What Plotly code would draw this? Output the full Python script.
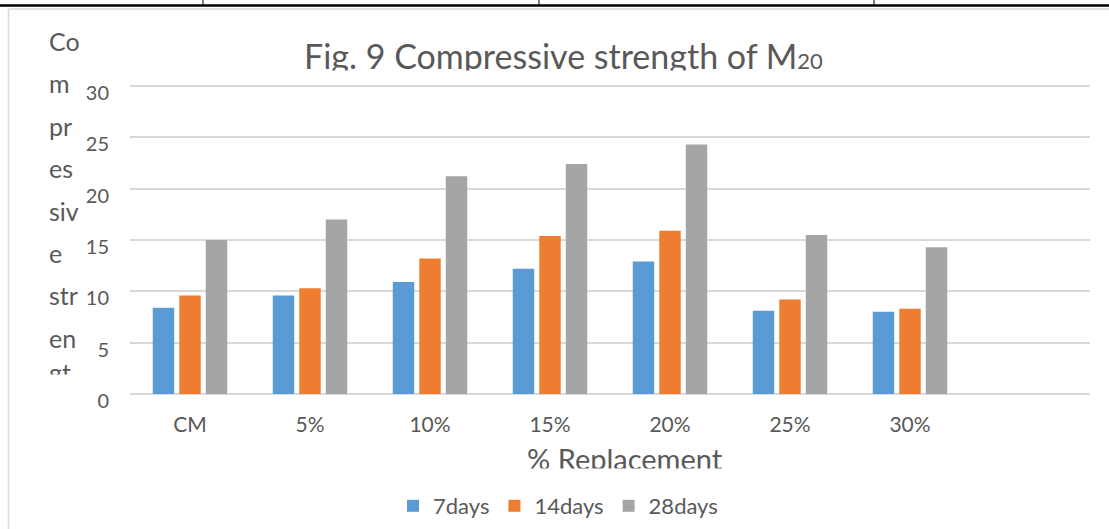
import plotly.graph_objects as go

# ---- data ----
categories = ["CM", "5%", "10%", "15%", "20%", "25%", "30%"]
days7 = [8.4, 9.6, 10.9, 12.2, 12.9, 8.1, 8.0]
days14 = [9.6, 10.3, 13.2, 15.4, 15.9, 9.2, 8.3]
days28 = [15.0, 17.0, 21.2, 22.4, 24.3, 15.5, 14.3]
series_names = ["7days", "14days", "28days"]
series_colors = ["#5B9BD5", "#ED7D31", "#A5A5A5"]
yticks = [0, 5, 10, 15, 20, 25, 30]
ytitle_parts = ["Co", "m", "pr", "es", "siv", "e", "str", "en", "gt"]
title_text = "Fig. 9 Compressive strength of M<span style='font-size:22px'>20</span>"
xtitle_text = "% Replacement"

# ---- geometry ----
W, H = 1109, 529
ML, MR, MT, MB = 130, 19, 85, 135
PW = W - ML - MR
PH = H - MT - MB
FONT = "Lato"
TXT = "#595959"


def px(x):
    return (x - ML) / PW


def py(y):
    return (H - MB - y) / PH


fig = go.Figure()
for name, vals, col in zip(series_names, [days7, days14, days28], series_colors):
    fig.add_trace(go.Bar(x=categories, y=vals, name=name, marker=dict(color=col, line=dict(width=0))))

annotations = []
# title
annotations.append(dict(text=title_text, x=px(563), y=py(56), xref="paper", yref="paper",
                        xanchor="center", yanchor="middle", showarrow=False,
                        font=dict(family=FONT, size=34, color=TXT)))
# cover bottom of title (clipped in original)
annotations.append(dict(text=" ", x=px(290), y=py(70), xref="paper", yref="paper",
                        xanchor="left", yanchor="top", showarrow=False, width=560, height=13,
                        bgcolor="white", borderpad=0))
# y title fragments (wrapped, as in original)
for i, part in enumerate(ytitle_parts):
    cy = 41 + 42.4 * i if i < 8 else 372
    annotations.append(dict(text=part, x=px(47), y=py(cy), xref="paper", yref="paper",
                            xanchor="left", yanchor="middle", showarrow=False,
                            font=dict(family=FONT, size=25, color=TXT)))
annotations.append(dict(text=" ", x=px(40), y=py(374), xref="paper", yref="paper",
                        xanchor="left", yanchor="top", showarrow=False, width=50, height=15,
                        bgcolor="white", borderpad=0))
# x title
annotations.append(dict(text=xtitle_text, x=px(625), y=py(458), xref="paper", yref="paper",
                        xanchor="center", yanchor="middle", showarrow=False,
                        font=dict(family=FONT, size=29, color=TXT)))
annotations.append(dict(text=" ", x=px(500), y=py(468), xref="paper", yref="paper",
                        xanchor="left", yanchor="top", showarrow=False, width=260, height=16,
                        bgcolor="white", borderpad=0))

shapes = [
    dict(type="line", xref="paper", yref="paper", x0=px(0), x1=px(W), y0=py(5.5), y1=py(5.5),
         line=dict(color="black", width=2.5)),
    dict(type="line", xref="paper", yref="paper", x0=px(8.5), x1=px(8.5), y0=py(9), y1=py(H),
         line=dict(color="#d9d9d9", width=1.5)),
    dict(type="line", xref="paper", yref="paper", x0=px(8.5), x1=px(W), y0=py(9), y1=py(9),
         line=dict(color="#d9d9d9", width=1.5)),
]
for vx in [203, 539, 874]:
    shapes.append(dict(type="line", xref="paper", yref="paper", x0=px(vx), x1=px(vx), y0=py(0), y1=py(5),
                       line=dict(color="black", width=1)))

fig.update_layout(
    width=W, height=H,
    margin=dict(l=ML, r=MR, t=MT, b=MB, pad=0, autoexpand=False),
    paper_bgcolor="white", plot_bgcolor="white",
    barmode="group", bargap=0.3375, bargroupgap=0.19,
    font=dict(family=FONT, color=TXT),
    showlegend=True,
    legend=dict(orientation="h", xref="container", yref="container",
                x=558 / W, xanchor="center", y=(H - 506) / H, yanchor="middle",
                font=dict(family=FONT, size=22, color=TXT), traceorder="normal",
                itemwidth=30, tracegroupgap=0),
    annotations=annotations,
    shapes=shapes,
    xaxis=dict(type="category", range=[-0.5, 7.5], showgrid=False, showline=False, zeroline=False,
               ticks="", tickfont=dict(family=FONT, size=21, color=TXT), ticklabelstandoff=16,
               fixedrange=True),
    yaxis=dict(range=[0, 30.1], tickvals=yticks, showgrid=True, gridcolor="#d9d9d9", gridwidth=1.5,
               zeroline=True, zerolinecolor="#d9d9d9", zerolinewidth=1.5, showline=False, ticks="",
               tickfont=dict(family=FONT, size=20, color=TXT), ticklabelstandoff=20,
               ticklabelshift=7, fixedrange=True),
)

fig.write_html("out.html", config={"displayModeBar": False},
               post_script="document.body.style.margin='0px';")
